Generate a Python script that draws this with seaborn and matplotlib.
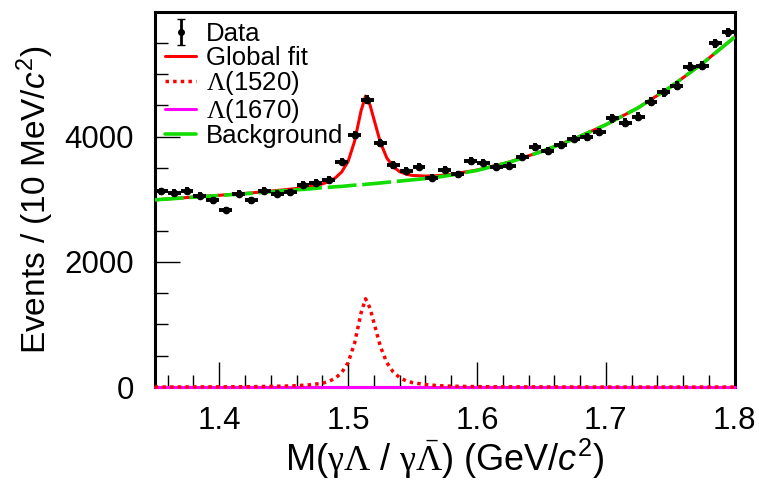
import numpy as np
import pandas as pd
import matplotlib
matplotlib.use('Agg')
import matplotlib.pyplot as plt
import seaborn as sns
from matplotlib.lines import Line2D
from matplotlib.ticker import MultipleLocator

# binned data (10 MeV bins)
bin_centers = [1.355, 1.365, 1.375, 1.385, 1.395, 1.405, 1.415, 1.425, 1.435, 1.445,
               1.455, 1.465, 1.475, 1.485, 1.495, 1.505, 1.515, 1.525, 1.535, 1.545,
               1.555, 1.565, 1.575, 1.585, 1.595, 1.605, 1.615, 1.625, 1.635, 1.645,
               1.655, 1.665, 1.675, 1.685, 1.695, 1.705, 1.715, 1.725, 1.735, 1.745,
               1.755, 1.765, 1.775, 1.785, 1.795]
counts = [3125, 3100, 3135, 3055, 2980, 2830, 3090, 2980, 3135, 3090,
          3110, 3230, 3265, 3310, 3600, 4030, 4590, 3900, 3550, 3455,
          3520, 3345, 3470, 3400, 3610, 3585, 3520, 3535, 3680, 3840,
          3775, 3870, 3970, 4000, 4080, 4290, 4225, 4320, 4560, 4705,
          4815, 5120, 5135, 5490, 5665]

# fit components sampled along the mass axis
mass_grid = [1.35, 1.375, 1.40, 1.425, 1.45, 1.46, 1.47, 1.48, 1.485, 1.49,
             1.495, 1.50, 1.505, 1.51, 1.5135, 1.517, 1.52, 1.525, 1.53, 1.535,
             1.54, 1.545, 1.55, 1.56, 1.57, 1.58, 1.60, 1.625, 1.65, 1.675,
             1.70, 1.725, 1.75, 1.775, 1.80]
background = [2990, 3025, 3060, 3095, 3135, 3150, 3165, 3185, 3190, 3200,
              3205, 3215, 3225, 3230, 3238, 3245, 3250, 3260, 3270, 3280,
              3290, 3300, 3310, 3330, 3355, 3385, 3460, 3590, 3760, 3960,
              4190, 4460, 4790, 5170, 5590]
lambda1520 = [0, 2, 3, 6, 15, 22, 35, 60, 90, 140,
              230, 390, 700, 1180, 1410, 1260, 1030, 650, 390, 240,
              150, 100, 70, 40, 22, 14, 6, 3, 2, 1,
              0, 0, 0, 0, 0]
lambda1670_mass = [1.35, 1.45, 1.55, 1.65, 1.75, 1.80]
lambda1670 = [0, 0, 0, 0, 0, 0]

sns.set_style('ticks')
plt.rcParams['font.family'] = ['Liberation Sans', 'DejaVu Sans']
plt.rcParams['mathtext.fontset'] = 'custom'
plt.rcParams['mathtext.rm'] = 'Liberation Serif'
plt.rcParams['mathtext.it'] = 'Liberation Sans:italic'
plt.rcParams['mathtext.sf'] = 'Liberation Sans'
for key in ['text.color', 'axes.labelcolor', 'xtick.color', 'ytick.color', 'axes.edgecolor']:
    plt.rcParams[key] = 'black'

fit = pd.DataFrame({'mass': mass_grid, 'bkg': background, 'sig': lambda1520})
fit['total'] = fit['bkg'] + fit['sig']
l1670 = pd.DataFrame({'mass': lambda1670_mass, 'sig': lambda1670})

fig = plt.figure(figsize=(7.59, 4.82), dpi=100)
ax = fig.add_axes([0.204, 0.197, 0.764, 0.778])

green = '#11dd00'
dotted = (0, (1, 1.2))
sns.lineplot(data=fit, x='mass', y='total', color='red', lw=2.2, ax=ax, zorder=3)
sns.lineplot(data=fit, x='mass', y='sig', color='red', lw=2.5,
             linestyle=dotted, ax=ax, zorder=4, clip_on=False)
sns.lineplot(data=l1670, x='mass', y='sig', color='magenta', lw=2.2,
             ax=ax, zorder=3.5, clip_on=False)
sns.lineplot(data=fit, x='mass', y='bkg', color=green, lw=2.6,
             linestyle=(0, (8, 1.6)), ax=ax, zorder=3.2)
ax.errorbar(bin_centers, counts, xerr=0.005, yerr=np.sqrt(counts), fmt='o',
            ms=4.5, color='black', elinewidth=2.8, capsize=0, zorder=5)

ax.set_xlim(1.35, 1.8)
ax.set_ylim(0, 5990)
ax.xaxis.set_major_locator(MultipleLocator(0.1))
ax.xaxis.set_minor_locator(MultipleLocator(0.02))
ax.yaxis.set_major_locator(MultipleLocator(2000))
ax.yaxis.set_minor_locator(MultipleLocator(500))
ax.tick_params(which='both', direction='in', top=False, right=False,
               labelsize=22.5, width=1, color='black')
ax.tick_params(axis='y', which='major', length=18, pad=15)
ax.tick_params(axis='y', which='minor', length=9)
ax.tick_params(axis='x', which='major', length=18, pad=14)
ax.tick_params(axis='x', which='minor', length=9)
for s in ax.spines.values():
    s.set_linewidth(2.2)
    s.set_visible(True)

ax.set_xlabel(r'M($\mathrm{\gamma\Lambda}$ / $\mathrm{\gamma\bar{\Lambda}}$) (GeV/$c^{\mathsf{2}}$)',
              fontsize=26, labelpad=0)
ax.set_ylabel(r'Events / (10 MeV/$c^{\mathsf{2}}$)', fontsize=24, labelpad=6)

data_proxy = ax.errorbar([np.nan], [np.nan], yerr=[1], fmt='o', ms=4, color='black',
                         elinewidth=2, capsize=3)
handles = [data_proxy,
           Line2D([], [], color='red', lw=2.2),
           Line2D([], [], color='red', lw=2.5, linestyle=dotted),
           Line2D([], [], color='magenta', lw=2.2),
           Line2D([], [], color=green, lw=2.6)]
labels = ['Data', 'Global fit', r'$\Lambda$(1520)', r'$\Lambda$(1670)', 'Background']
ax.legend(handles, labels, loc='upper left', bbox_to_anchor=(0.0, 1.0),
          frameon=False, fontsize=18.5, handlelength=1.2, handletextpad=0.4,
          labelspacing=-0.02, borderaxespad=0.05, borderpad=0.35)

fig.savefig('out.png', dpi=100)
